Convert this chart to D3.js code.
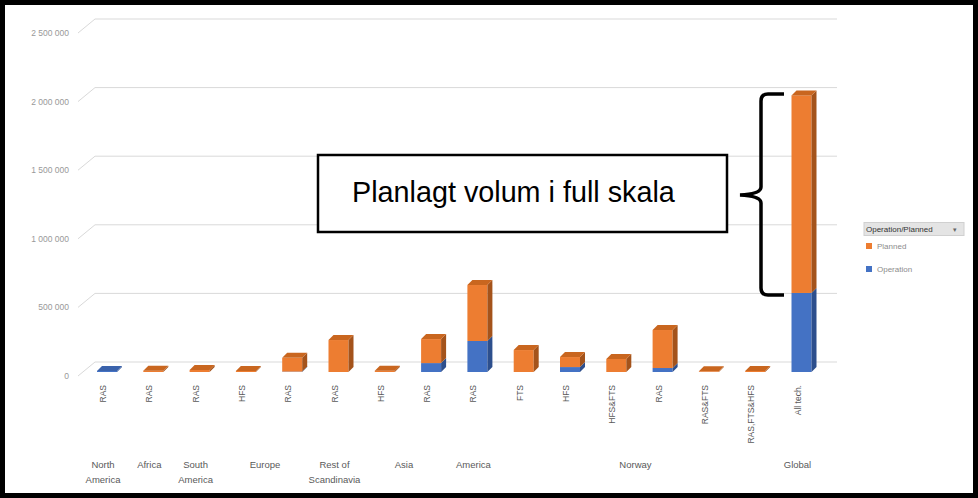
<!DOCTYPE html>
<meta charset="utf-8">
<style>
body { margin: 0; background: #fff; }
text { font-family: "Liberation Sans", Arial, sans-serif; }
</style>
<body>
<script src="https://d3js.org/d3.v7.min.js"></script>
<script>

// chart data
var groups = ["North America", "Africa", "South America", "Europe", "Europe",
              "Rest of Scandinavia", "Asia", "Asia", "America", "Norway", "Norway",
              "Norway", "Norway", "Norway", "Norway", "Global"];
var tech = ["RAS", "RAS", "RAS", "HFS", "RAS", "RAS", "HFS", "RAS", "RAS",
            "FTS", "HFS", "HFS&FTS", "RAS", "RAS&FTS", "RAS,FTS&HFS", "All tech."];
var operation = [8000, 0, 0, 0, 3000, 0, 0, 65000, 226000, 0, 36000, 0, 29000, 0, 0, 576000];
var planned   = [0, 10000, 15000, 8000, 100000, 233000, 10000, 175000, 408000,
                 160000, 73000, 95000, 277000, 5000, 8000, 1440000];
var yTicks = [0, 500000, 1000000, 1500000, 2000000, 2500000];
var seriesNames = ["Planned", "Operation"];

var W = 978, H = 498;
var svg = d3.select("body").append("svg")
    .attr("width", W)
    .attr("height", H);

// scales: back wall, front labels, bar fronts
var yBack  = d3.scaleLinear().domain([0, 2500000]).range([362, 19]);
var yFront = d3.scaleLinear().domain([0, 2500000]).range([376, 33]);
var yBar   = d3.scaleLinear().domain([0, 2500000]).range([372, 29]);
var x = d3.scaleBand()
    .domain(d3.range(tech.length))
    .range([79.85, 79.85 + 46.3 * tech.length]);

var fmt = d3.formatLocale({decimal: ",", thousands: "\u00a0", grouping: [3]}).format(",d");

// gridlines on the back wall + diagonal ticks
svg.append("g").selectAll("line")
    .data(yTicks)
  .enter().append("line")
    .attr("x1", 95).attr("x2", 837)
    .attr("y1", d => yBack(d)).attr("y2", d => yBack(d))
    .attr("stroke", "#d9d9d9").attr("stroke-width", 1);

svg.append("g").selectAll("line")
    .data(yTicks)
  .enter().append("line")
    .attr("x1", 78).attr("x2", 95)
    .attr("y1", d => yFront(d)).attr("y2", d => yBack(d))
    .attr("stroke", "#d9d9d9").attr("stroke-width", 1);

svg.append("g").selectAll("text")
    .data(yTicks)
  .enter().append("text")
    .attr("x", 69)
    .attr("y", d => yFront(d))
    .attr("dy", "0.35em")
    .attr("text-anchor", "end")
    .attr("font-size", 8.5)
    .attr("fill", "#999")
    .text(d => fmt(d));

// 3D bars
var dx = 5, dy = -5, bw = 20;
var col = {
  Operation: {front: "#4472c4", top: "#3a62ab", side: "#2d4f8d"},
  Planned:   {front: "#ed7d31", top: "#c9661f", side: "#a4531b"}
};

var bars = svg.append("g");
tech.forEach(function(t, i) {
  var x0 = x(i) + x.bandwidth() / 2 + 4 - bw / 2;
  var segs = [
    {name: "Operation", v0: 0, v1: operation[i]},
    {name: "Planned", v0: operation[i], v1: operation[i] + planned[i]}
  ].filter(s => s.v1 > s.v0);
  segs.forEach(function(s, k) {
    var yt = yBar(s.v1), yb = yBar(s.v0), c = col[s.name];
    if (yb - yt > 0.3) {
      bars.append("rect")
          .attr("x", x0).attr("y", yt)
          .attr("width", bw).attr("height", yb - yt)
          .attr("fill", c.front);
    }
    bars.append("path")
        .attr("d", "M" + (x0 + bw) + "," + yb + "L" + (x0 + bw) + "," + yt +
              "L" + (x0 + bw + dx) + "," + (yt + dy) + "L" + (x0 + bw + dx) + "," + (yb + dy) + "Z")
        .attr("fill", c.side);
    if (k === segs.length - 1) {
      bars.append("path")
          .attr("d", "M" + x0 + "," + yt + "L" + (x0 + bw) + "," + yt +
                "L" + (x0 + bw + dx) + "," + (yt + dy) + "L" + (x0 + dx) + "," + (yt + dy) + "Z")
          .attr("fill", c.top);
    }
  });
});

// category labels, rotated
svg.append("g").selectAll("text")
    .data(tech)
  .enter().append("text")
    .attr("transform", (d, i) => "translate(" + (x(i) + x.bandwidth() / 2 + 3) + ",385) rotate(-90)")
    .attr("text-anchor", "end")
    .attr("font-size", 8.5)
    .attr("fill", "#595959")
    .text(d => d);

// group labels, centred under their members
var groupNames = Array.from(new Set(groups));
var lines = {"North America": ["North", "America"], "South America": ["South", "America"],
             "Rest of Scandinavia": ["Rest of", "Scandinavia"]};
groupNames.forEach(function(g) {
  var idx = d3.range(groups.length).filter(i => groups[i] === g);
  var cx = d3.mean(idx, i => x(i) + x.bandwidth() / 2);
  var t = svg.append("text")
      .attr("x", cx).attr("y", 468)
      .attr("text-anchor", "middle")
      .attr("font-size", 9.5)
      .attr("fill", "#595959");
  (lines[g] || [g]).forEach(function(l, j) {
    t.append("tspan").attr("x", cx).attr("dy", j ? 15 : 0).text(l);
  });
});

// legend
var lg = svg.append("g");
lg.append("rect")
    .attr("x", 864).attr("y", 222.5).attr("width", 100).attr("height", 13)
    .attr("fill", "#e4e4e4").attr("stroke", "#d0d0d0");
lg.append("text")
    .attr("x", 866).attr("y", 232)
    .attr("font-size", 8).attr("fill", "#333")
    .text("Operation/Planned");
lg.append("text")
    .attr("x", 953).attr("y", 232)
    .attr("font-size", 7).attr("fill", "#666")
    .text("\u25be");
seriesNames.forEach(function(n, i) {
  lg.append("rect")
      .attr("x", 866).attr("y", 243 + i * 23).attr("width", 6).attr("height", 6)
      .attr("fill", col[n].front);
  lg.append("text")
      .attr("x", 877).attr("y", 249 + i * 23)
      .attr("font-size", 8).attr("fill", "#8c8c8c")
      .text(n);
});

// callout box and brace
svg.append("rect")
    .attr("x", 318).attr("y", 155).attr("width", 409).attr("height", 77)
    .attr("fill", "#fff").attr("stroke", "#000").attr("stroke-width", 2.5);
var callout = svg.append("text")
    .attr("x", 352).attr("y", 202)
    .attr("font-family", "'Open Sans', 'Noto Sans', sans-serif")
    .attr("font-size", 26)
    .attr("fill", "#000")
    .text("Planlagt volum i full skala");
// fit the callout text to the width it has in the picture
var len = callout.node().getComputedTextLength();
if (len > 0) callout.attr("font-size", 26 * 323 / len);
svg.append("path")
    .attr("d", "M784,94 L768,94 Q761,94 761,101 L761,187 Q761,194 740,195 Q761,196 761,203 L761,288 Q761,295 768,295 L784,295")
    .attr("fill", "none").attr("stroke", "#000").attr("stroke-width", 3.5);

// outer frame
svg.append("rect")
    .attr("x", 2.5).attr("y", 2.5).attr("width", W - 5).attr("height", H - 5)
    .attr("fill", "none").attr("stroke", "#000").attr("stroke-width", 5);

</script>
</body>
